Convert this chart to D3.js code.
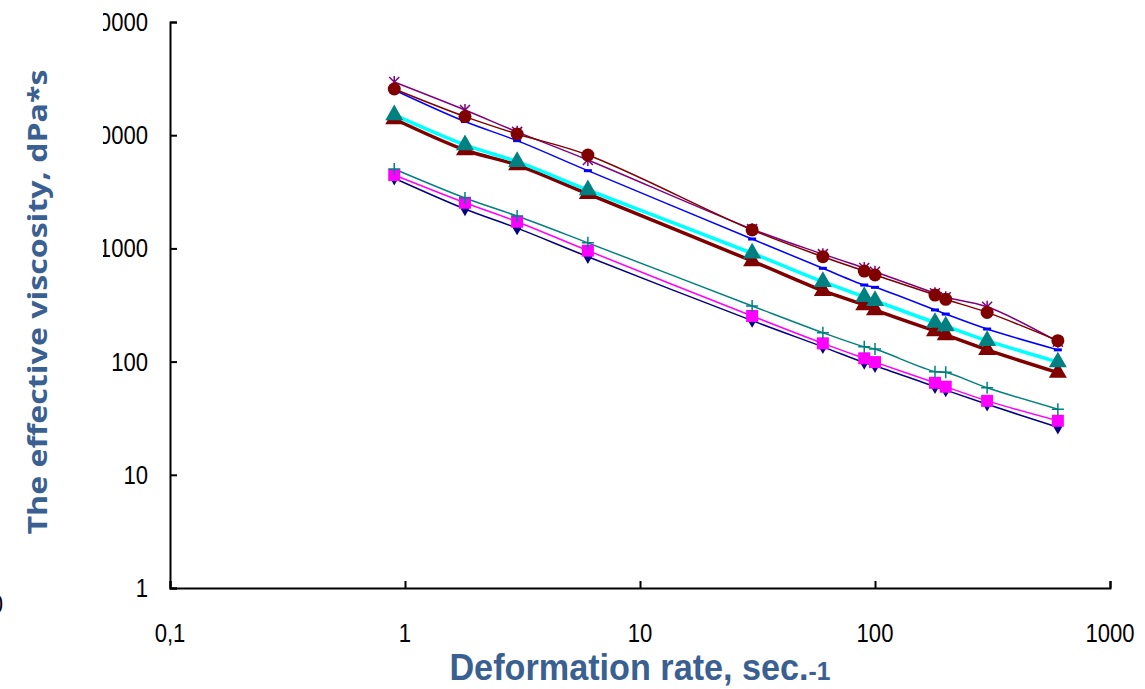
<!DOCTYPE html>
<html>
<head>
<meta charset="utf-8">
<script src="https://cdn.jsdelivr.net/npm/d3@7"></script>
<style>
  body { margin: 0; background: #fff; }
  svg { display: block; }
</style>
</head>
<body>
<svg id="chart" width="1145" height="689"></svg>
<script>
// shear rates (x) and effective viscosity per sample (y)
var rates = [0.9, 1.8, 3, 6, 30, 60, 90, 100, 180, 200, 300, 600]
var purpleStar = [29500, 16700, 10700, 6040, 1480, 890, 671, 622, 401, 370, 305, 150]
var maroonCircle = [25600, 14600, 10250, 6680, 1455, 845, 631, 582, 387, 355, 272, 153]
var blueDash = [25100, 13200, 8950, 4860, 1210, 667, 475, 453, 286, 263, 194, 127]
var cyanTri = [15100, 8200, 5830, 3280, 906, 508, 374, 345, 221, 206, 153, 99]
var maroonTri = [13900, 7400, 5450, 3030, 774, 423, 316, 286, 186, 172, 127, 80]
var tealPlus = [5030, 2790, 1930, 1120, 310, 180, 135, 129, 81.5, 80.5, 58.8, 38]
var magentaSquare = [4450, 2530, 1720, 955, 253, 145, 107, 99, 65, 60, 45, 30]
var navyDiamond = [4170, 2230, 1510, 845, 230, 135, 98, 92, 60, 56, 42, 26.3]

var xTicks = [0.1, 1, 10, 100, 1000]
var xTickLabels = ["0,1", "1", "10", "100", "1000"]
var yTicks = [1, 10, 100, 1000, 10000, 100000]
var yTickLabels = ["1", "10", "100", "1000", "10000", "100000"]

var svg = d3.select("#chart")
var tickFont = "'Liberation Sans', Arial, sans-serif"
var titleColor = "#3a6091"

var x = d3.scaleLog().domain([0.1, 1000]).range([170, 1110])
var y = d3.scaleLog().domain([1, 100000]).range([588, 22])

// series in drawing order
var series = [
  {v: navyDiamond, line: "#000080", w: 1.5, mark: "diamond", fill: "#000080"},
  {v: magentaSquare, line: "#ff00ff", w: 1.5, mark: "square", fill: "#ff00ff"},
  {v: tealPlus, line: "#008080", w: 1.5, mark: "plus", fill: "#008080"},
  {v: maroonTri, line: "#800000", w: 3.5, mark: "triangle", fill: "#800000"},
  {v: cyanTri, line: "#00ffff", w: 3.5, mark: "triangle", fill: "#008080"},
  {v: blueDash, line: "#0000ff", w: 1.5, mark: "dash", fill: "#0000ff"},
  {v: purpleStar, line: "#800080", w: 1.5, mark: "star", fill: "#800080"},
  {v: maroonCircle, line: "#800000", w: 1.5, mark: "circle", fill: "#800000"}
]

// axes
var xAxis = d3.axisBottom(x).tickValues(xTicks).tickSize(-7).tickFormat("")
var yAxis = d3.axisLeft(y).tickValues(yTicks).tickSize(-7).tickFormat("")

svg.append("g").attr("transform", "translate(0,588)").call(xAxis)
  .call(g => g.selectAll("path, line").attr("stroke", "#000").attr("stroke-width", 2))
svg.append("g").attr("transform", "translate(170,0)").call(yAxis)
  .call(g => g.selectAll("path, line").attr("stroke", "#000").attr("stroke-width", 2))

// tick labels (narrow, like Arial Narrow)
svg.append("g").selectAll("text")
  .data(xTicks)
  .enter()
  .append("text")
  .attr("transform", d => "translate(" + x(d) + ",642) scale(0.85,1)")
  .attr("text-anchor", "middle")
  .attr("font-family", tickFont)
  .attr("font-size", 26)
  .text((d, i) => xTickLabels[i])

svg.append("clipPath").attr("id", "yclip")
  .append("rect").attr("x", 103).attr("y", 0).attr("width", 60).attr("height", 689)

svg.append("g").attr("clip-path", "url(#yclip)")
  .selectAll("text")
  .data(yTicks)
  .enter()
  .append("text")
  .attr("transform", d => "translate(148," + (y(d) + 9) + ") scale(0.85,1)")
  .attr("text-anchor", "end")
  .attr("font-family", tickFont)
  .attr("font-size", 26)
  .text((d, i) => yTickLabels[i])

// cut-off fragment at the left edge
svg.append("text").attr("transform", "translate(3,613) scale(0.85,1)").attr("text-anchor", "end")
  .attr("font-family", tickFont).attr("font-size", 26).text("0")

// lines
var line = d3.line()
  .x((d, i) => x(rates[i]))
  .y(d => y(d))
  .curve(d3.curveCatmullRom.alpha(0.5))

svg.append("g").selectAll("path")
  .data(series)
  .enter()
  .append("path")
  .attr("d", s => line(s.v))
  .attr("fill", "none")
  .attr("stroke", s => s.line)
  .attr("stroke-width", s => s.w)

// markers
series.forEach(function(s) {
  var g = svg.append("g")
  var pts = g.selectAll("g")
    .data(s.v)
    .enter()
    .append("g")
    .attr("transform", (d, i) => "translate(" + x(rates[i]) + "," + y(d) + ")")
  if (s.mark == "circle") {
    pts.append("circle").attr("r", 6.5).attr("fill", s.fill)
  } else if (s.mark == "square") {
    pts.append("rect").attr("x", -6).attr("y", -6).attr("width", 12).attr("height", 12).attr("fill", s.fill)
  } else if (s.mark == "diamond") {
    pts.append("path").attr("d", d3.symbol(d3.symbolDiamond, 60)).attr("fill", s.fill)
  } else if (s.mark == "triangle") {
    pts.append("path").attr("d", d3.symbol(d3.symbolTriangle, 140)).attr("fill", s.fill)
  } else if (s.mark == "dash") {
    pts.append("rect").attr("x", -4).attr("y", -1.5).attr("width", 8).attr("height", 3).attr("fill", s.fill)
  } else if (s.mark == "plus") {
    pts.append("path").attr("d", "M-6,0H6M0,-6V6").attr("stroke", s.fill).attr("stroke-width", 1.5)
  } else if (s.mark == "star") {
    pts.append("path").attr("d", "M-5,-5L5,5M-5,5L5,-5M0,-6V6").attr("stroke", s.fill).attr("stroke-width", 1.5)
  }
})

// axis titles
svg.append("text")
  .attr("transform", "translate(47,302) rotate(-90)")
  .attr("text-anchor", "middle")
  .attr("font-family", "'Open Sans', 'Noto Sans', sans-serif")
  .attr("font-weight", "bold")
  .attr("font-size", 27)
  .attr("fill", titleColor)
  .attr("textLength", 465)
  .attr("lengthAdjust", "spacingAndGlyphs")
  .text("The effective viscosity, dPa*s")

var xt = svg.append("text")
  .attr("transform", "translate(640,680) scale(0.95,1)")
  .attr("text-anchor", "middle")
  .attr("font-family", tickFont)
  .attr("font-weight", "bold")
  .attr("font-size", 36)
  .attr("fill", titleColor)
xt.append("tspan").text("Deformation rate, sec.")
xt.append("tspan").attr("font-size", 26).text("-1")
</script>
</body>
</html>
